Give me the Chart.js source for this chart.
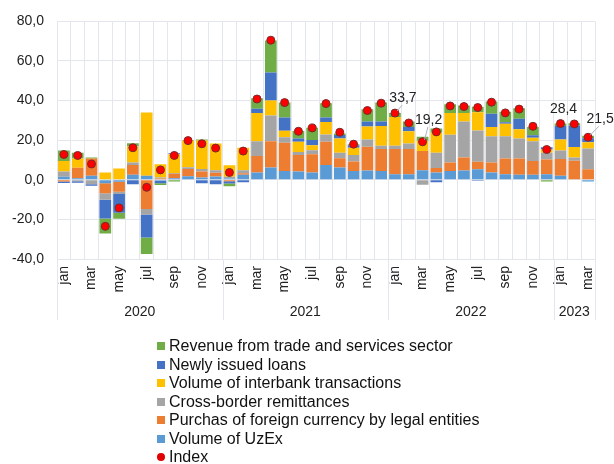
<!DOCTYPE html>
<html>
<head>
<meta charset="utf-8">
<script src="https://cdn.jsdelivr.net/npm/chart.js@4/dist/chart.umd.min.js"></script>
<style>
  body { margin: 0; background: #fff; font-family: "Liberation Sans", Arial, sans-serif; }
  #wrap { position: relative; width: 614px; height: 464px; }
  #legend { position: absolute; left: 157px; top: 337px; font-size: 16px; color: #111; }
  #legend div { height: 18.5px; line-height: 18.5px; white-space: nowrap; }
  #legend span.box { display: inline-block; width: 8px; height: 8px; margin-right: 4px; vertical-align: 1px; }
  #legend span.dot { border-radius: 50%; }
</style>
</head>
<body>
<div id="wrap">
  <canvas id="chart" width="614" height="464"></canvas>
  <div id="legend"></div>
</div>
<script>
// Months Jan 2020 - Mar 2023
const monthNames = ["jan","feb","mar","apr","may","jun","jul","aug","sep","oct","nov","dec"];
const years = ["2020", "2021", "2022", "2023"];
const categories = [];
years.forEach(y => monthNames.forEach(m => categories.push(m + " " + y)));
categories.length = 39;

const yTicks = [-40, -20, 0, 20, 40, 60, 80];

// Components, contribution to index
const uzex =       [1.5, 0.8, 2.0, -1.8, -1.0, 2.5, 2.0, -0.5, 0.8, 1.8, 1.2, 1.7, 0.7, 2.5, 3.7, 6.2, 4.5, 4.2, 3.7, 7.5, 6.2, 4.5, 4.7, 4.5, 2.8, 2.8, 4.8, 3.7, 4.5, 4.7, 5.3, 3.7, 2.8, 2.5, 2.5, 2.8, 2.0, 0.3, -0.8];
const purchases =  [-0.8, 5.3, 8.7, -5.0, -5.0, 5.0, -14.7, 0.6, 2.3, 3.7, 3.0, 1.8, -0.7, 0.8, 8.3, 13.3, 14.2, 8.3, 9.2, 11.7, 4.7, 4.7, 12.0, 11.0, 12.7, 12.7, 9.7, 2.2, 4.3, 6.5, 3.8, 5.0, 8.0, 8.3, 7.0, 7.5, 8.5, 9.3, 5.3];
const remittances = [2.7, -0.7, -2.2, -3.3, -1.2, 1.2, -2.8, 0.6, 0.3, 0.8, 1.2, 1.3, 0.8, 1.5, 7.5, 13.0, 2.8, 1.5, 2.0, 3.7, 2.8, 3.3, 3.7, 1.7, 1.7, 2.8, -2.5, 7.8, 14.0, 18.3, 15.8, 13.3, 11.2, 10.0, 10.0, 3.3, 4.3, 1.7, 10.5];
const interbank =  [5.3, 4.7, 0, 3.7, 5.7, 8.3, 32.0, 6.6, 9.5, 13.5, 14.5, 13.5, 5.8, 11.4, 14.2, 7.5, 3.3, 5.2, 2.5, 6.3, 7.2, 3.7, 6.5, 10.0, 14.5, 6.2, 5.2, 10.0, 11.0, 4.3, 9.2, 4.7, 6.3, 4.7, 1.8, 1.7, 5.6, 5.3, 3.2];
const loans =      [-0.8, -0.8, -0.8, -9.5, -9.5, -2.2, -11.7, -1.3, 0.5, 0, -1.8, -2.2, -1.2, -1.3, 2.2, 14.2, 6.7, 1.7, 2.7, 2.3, 1.7, 1.2, 2.5, 2.3, 0, 2.2, 0, -1.3, 0, 0, -0.5, 6.7, 0.8, 5.3, 1.2, 1.2, 6.8, 10.8, 2.0];
const revenue =    [5.3, 2.8, 0.5, -7.5, -3.0, 1.5, -8.3, -0.8, -0.8, 0.3, 0.5, 0, -1.3, 0, 5.3, 16.2, 7.5, 3.7, 6.2, 7.2, 0.8, 0.6, 6.2, 9.5, 2.0, 2.8, 2.0, 2.2, 4.3, 3.7, 2.8, 6.2, 5.3, 5.3, 4.2, -0.8, 1.2, 1.2, 1.2];
const indexValues = [12.8, 12.3, 8.0, -23.5, -14.2, 16.2, -3.8, 5.0, 12.3, 19.8, 18.2, 16.0, 3.7, 14.5, 40.8, 70.5, 39.0, 24.5, 26.2, 38.5, 24.0, 18.0, 35.0, 38.7, 33.7, 28.7, 19.2, 24.2, 37.3, 37.0, 36.5, 39.2, 33.8, 35.7, 27.0, 15.3, 28.4, 28.2, 21.5];

// Which index points get a value label
const labelledPoints = [24, 26, 36, 38];

const fontFamily = "'Liberation Sans', Arial, sans-serif";
const gridColor = "#e3e6ed";

const parts = [
  { label: "Volume of UzEx", data: uzex, color: "#5b9bd5" },
  { label: "Purchas of foreign currency by legal entities", data: purchases, color: "#ed7d31" },
  { label: "Cross-border remittances", data: remittances, color: "#a5a5a5" },
  { label: "Volume of interbank transactions", data: interbank, color: "#ffc000" },
  { label: "Newly issued loans", data: loans, color: "#4472c4" },
  { label: "Revenue from trade and services sector", data: revenue, color: "#70ad47" }
];

const datasets = parts.map(p => ({
  type: "bar",
  label: p.label,
  data: p.data,
  backgroundColor: p.color,
  stack: "parts",
  order: 1,
  barPercentage: 0.85,
  categoryPercentage: 1
}));
datasets.push({
  type: "line",
  label: "Index",
  data: indexValues,
  showLine: false,
  stack: "index",
  order: 0,
  pointRadius: 4,
  pointBackgroundColor: "#ff0000",
  pointBorderColor: "#7a2a2a",
  pointBorderWidth: 1
});

// Year row under the month labels, with separators
const yearRow = {
  id: "yearRow",
  afterDraw(chart) {
    const { ctx, chartArea } = chart;
    const step = (chartArea.right - chartArea.left) / categories.length;
    ctx.save();
    ctx.strokeStyle = gridColor;
    ctx.lineWidth = 1;
    ctx.fillStyle = "#222";
    ctx.font = "14px " + fontFamily;
    ctx.textAlign = "center";
    ctx.textBaseline = "middle";
    const bounds = [0, 12, 24, 36, 39];
    bounds.forEach(b => {
      const px = Math.round(chartArea.left + b * step) + 0.5;
      ctx.beginPath();
      ctx.moveTo(px, chartArea.bottom);
      ctx.lineTo(px, 320);
      ctx.stroke();
    });
    years.forEach((y, k) => {
      const mid = chartArea.left + (bounds[k] + bounds[k + 1]) / 2 * step;
      ctx.fillText(y, mid, 312);
    });
    ctx.restore();
  }
};

// Value labels for selected index points
const pointLabels = {
  id: "pointLabels",
  afterDatasetsDraw(chart) {
    const { ctx } = chart;
    const meta = chart.getDatasetMeta(datasets.length - 1);
    const offsets = { 24: [8, -15, true], 26: [6, -22, true], 36: [3, -14, false], 38: [12, -18, true] };
    ctx.save();
    ctx.font = "14px " + fontFamily;
    ctx.fillStyle = "#222";
    ctx.textAlign = "center";
    ctx.textBaseline = "middle";
    ctx.strokeStyle = "#a9b4c6";
    ctx.lineWidth = 1;
    labelledPoints.forEach(i => {
      const pt = meta.data[i];
      const [dx, dy, lead] = offsets[i];
      if (lead) {
        ctx.beginPath();
        ctx.moveTo(pt.x + 2, pt.y - 2);
        ctx.lineTo(pt.x + dx * 0.9, pt.y + dy + 7);
        ctx.stroke();
      }
      ctx.fillText(indexValues[i].toFixed(1).replace(".", ","), pt.x + dx, pt.y + dy);
    });
    ctx.restore();
  }
};

const chart = new Chart(document.getElementById("chart"), {
  data: { labels: categories, datasets },
  options: {
    responsive: false,
    animation: false,
    devicePixelRatio: 1,
    layout: { padding: { left: 0, right: 19, top: 18, bottom: 135 } },
    plugins: { legend: { display: false }, tooltip: { enabled: false } },
    scales: {
      x: {
        stacked: true,
        offset: true,
        grid: { color: gridColor, offset: true, drawTicks: false },
        border: { color: gridColor },
        ticks: {
          autoSkip: false,
          minRotation: 90,
          maxRotation: 90,
          padding: 7,
          color: "#222",
          font: { family: fontFamily, size: 14 },
          callback: (v, i) => (i % 2 === 0 ? monthNames[i % 12] : "")
        },
        afterFit: s => { s.height = 70; }
      },
      y: {
        stacked: true,
        min: yTicks[0],
        max: yTicks[yTicks.length - 1],
        grid: { color: gridColor, drawTicks: false },
        border: { color: gridColor },
        afterBuildTicks: s => { s.ticks = yTicks.map(v => ({ value: v })); },
        ticks: {
          padding: 13,
          color: "#222",
          font: { family: fontFamily, size: 14 },
          callback: v => v.toFixed(1).replace(".", ",")
        },
        afterFit: s => { s.width = 57; }
      }
    }
  },
  plugins: [yearRow, pointLabels]
});

// Legend: components top-down, then the index
const legend = document.getElementById("legend");
[...parts].reverse().forEach(p => {
  const row = document.createElement("div");
  row.innerHTML = `<span class="box" style="background:${p.color}"></span>${p.label}`;
  legend.appendChild(row);
});
const idxRow = document.createElement("div");
idxRow.innerHTML = `<span class="box dot" style="background:#e00000"></span>Index`;
legend.appendChild(idxRow);
</script>
</body>
</html>
